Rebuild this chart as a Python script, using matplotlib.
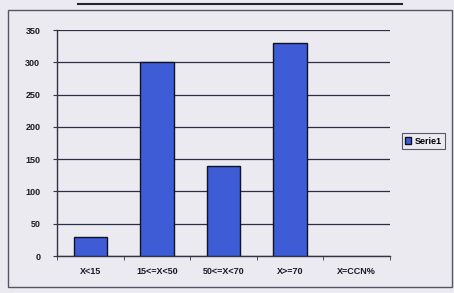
import numpy as np
import matplotlib
matplotlib.use("Agg")
import matplotlib.pyplot as plt
from matplotlib.patches import Rectangle

# categories and values
categories = ["X<15", "15<=X<50", "50<=X<70", "X>=70", "X=CCN%"]
serie1 = [30, 300, 140, 330, np.nan]   # last class has no bar
yticks = [0, 50, 100, 150, 200, 250, 300, 350]

bg = "#ECEAF1"
bar_color = "#3D5CD6"

plt.rcParams["font.family"] = ["Liberation Sans", "DejaVu Sans"]

fig = plt.figure(figsize=(4.54, 2.93), dpi=100, facecolor=bg)
ax = fig.add_axes([57 / 454, 1 - 256 / 293, 333 / 454, 226 / 293])
ax.set_facecolor(bg)

x = np.arange(len(categories))
bars = ax.bar(x, serie1, width=0.5, color=bar_color, edgecolor="#111122",
              linewidth=1.0, label="Serie1", zorder=3)

ax.set_xlim(-0.5, len(categories) - 0.5)
ax.set_ylim(0, 350)
ax.set_yticks(yticks)
ax.set_yticklabels([str(v) for v in yticks], fontsize=6.5, fontweight="bold",
                   color="#1A1A26")
ax.yaxis.grid(True, color="#2A2E48", linewidth=0.9, zorder=0)

# category labels centred, tick marks on the boundaries
ax.set_xticks(x)
ax.set_xticklabels(categories, fontsize=6.5, fontweight="bold", color="#1A1A26")
ax.tick_params(axis="x", length=0, pad=8)
ax.set_xticks(np.arange(len(categories) + 1) - 0.5, minor=True)
ax.tick_params(axis="x", which="minor", length=3, color="#333344")
ax.tick_params(axis="y", length=3, color="#333344", pad=9)

for side in ["top", "right"]:
    ax.spines[side].set_visible(False)
for side in ["left", "bottom"]:
    ax.spines[side].set_color("#333344")
    ax.spines[side].set_linewidth(1.0)

leg = fig.legend(handles=[bars], labels=["Serie1"], loc="center left",
                 bbox_to_anchor=(397 / 454, 1 - 141 / 293),
                 prop={"weight": "bold", "size": 6.5}, frameon=True,
                 handlelength=0.7, handleheight=0.7, handletextpad=0.4,
                 borderpad=0.35, fancybox=False)
leg.get_frame().set_edgecolor("#333344")
leg.get_frame().set_facecolor(bg)
leg.get_frame().set_linewidth(0.8)

# outer chart border and cut-off title underline
fig.patches.append(Rectangle((8 / 454, 6 / 293), 444 / 454, 277 / 293,
                             transform=fig.transFigure, fill=False,
                             edgecolor="#555566", linewidth=1.0))
fig.add_artist(plt.Line2D([78 / 454, 402 / 454], [1 - 4 / 293, 1 - 4 / 293],
                          transform=fig.transFigure, color="#222233",
                          linewidth=1.5))

fig.savefig("out.png", dpi=100, facecolor=bg)
